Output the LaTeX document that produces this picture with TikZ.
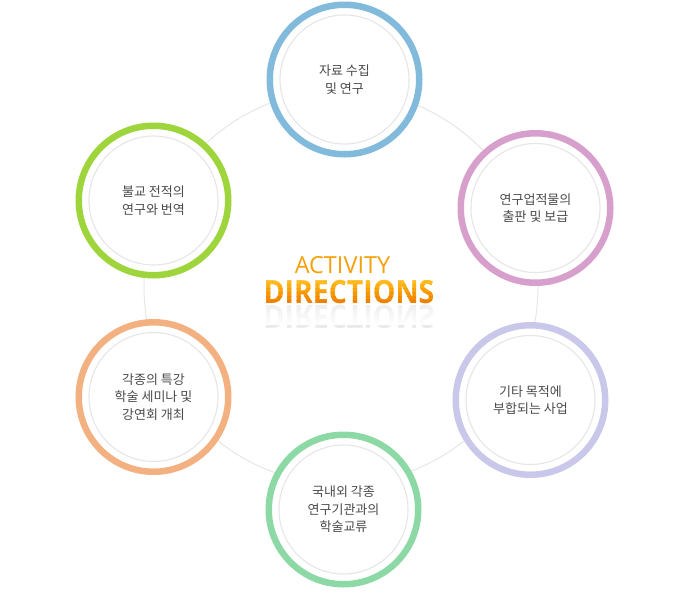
\documentclass[tikz,border=0pt]{standalone}
\usepackage{fontspec}
\usepackage{graphicx}
\newfontfamily\krfont{Noto Sans CJK KR}
\newfontfamily\enfont{Open Sans}
\usetikzlibrary{fadings}
\definecolor{ringblue}{HTML}{82BADC}
\definecolor{ringpink}{HTML}{D7A0CC}
\definecolor{ringlav}{HTML}{C9C8EB}
\definecolor{ringgreen}{HTML}{8CD9A6}
\definecolor{ringorange}{HTML}{F3B182}
\definecolor{ringlime}{HTML}{9ED43C}
\definecolor{txtgray}{HTML}{4A4A4A}
\definecolor{linegray}{HTML}{E6E6E6}
\definecolor{reflgray}{HTML}{EAEAEA}
\definecolor{actorange}{HTML}{F5A00A}
\definecolor{dirA}{HTML}{FFBA20}
\definecolor{dirB}{HTML}{FCAE14}
\definecolor{dirC}{HTML}{F9A20A}
\definecolor{dirD}{HTML}{F69604}
\definecolor{dirE}{HTML}{F28B00}
\definecolor{dirF}{HTML}{EE8200}
\tikzfading[name=reflfade, top color=transparent!80, bottom color=transparent!0]
\tikzset{
  ringnode/.style={circle, draw=#1, line width=6.5pt, fill=white,
    minimum size=149.5pt, inner sep=0pt, text=txtgray, align=center,
    font=\krfont\fontsize{13}{17.5}\selectfont},
  innerc/.style={draw=linegray, line width=1.1pt},
  bigc/.style={draw=linegray, line width=1pt},
  acttext/.style={anchor=base, inner sep=0pt, text=actorange,
    font=\enfont\fontsize{23.5}{24}\selectfont},
  dirtext/.style={anchor=base, inner sep=0pt,
    font=\enfont\bfseries\fontsize{32}{33}\selectfont}
}
\begin{document}
\begin{tikzpicture}[x=1pt,y=-1pt]
\useasboundingbox (0,0) rectangle (688,592);
% big thin circle
\coordinate (mid) at (341,287);
\draw[bigc] (mid) circle[radius=197pt];
% rings
\node[ringnode=ringblue]   (c1) at (344.5,79.5) {자료 수집\\ 및 연구};
\node[ringnode=ringpink]   (c2) at (535.5,208) {연구업적물의\\ 출판 및 보급};
\node[ringnode=ringlav]    (c3) at (530.5,400) {기타 목적에\\ 부합되는 사업};
\node[ringnode=ringgreen]  (c4) at (343.5,509.5) {국내외 각종\\ 연구기관과의\\ 학술교류};
\node[ringnode=ringorange] (c5) at (153.5,397) {각종의 특강\\ 학술 세미나 및\\ 강연회 개최};
\node[ringnode=ringlime]   (c6) at (153.5,200.5) {불교 전적의\\ 연구와 번역};
\foreach \c in {c1,c2,c3,c4,c5,c6}
  \draw[innerc] (\c.center) circle[radius=64.5pt];
% center title
\node[acttext] (act) at (342.5,273.5) {ACTIVITY};
\coordinate (dirbase) at (349,303.5);
% reflection
\begin{scope}
  \clip (250,304.5) rectangle (450,340);
  \begin{scope}[shift={(349,305)}, yscale=-1]
    \node[dirtext, text=reflgray, transform shape] (refl) at (0,0) {\scalebox{0.89}[1]{DIRECTIONS}};
  \end{scope}
\end{scope}
\fill[white, path fading=reflfade] (250,304.5) rectangle (450,325);
\foreach \col/\ya/\yb [count=\k] in {dirA/270/284,dirB/284/288,dirC/288/292,dirD/292/296,dirE/296/300,dirF/300/310}{
  \begin{scope}
    \clip (250,\ya) rectangle (450,\yb);
    \node[dirtext, text=\col] (dir\k) at (dirbase) {\scalebox{0.89}[1]{DIRECTIONS}};
  \end{scope}
}
\end{tikzpicture}
\end{document}
